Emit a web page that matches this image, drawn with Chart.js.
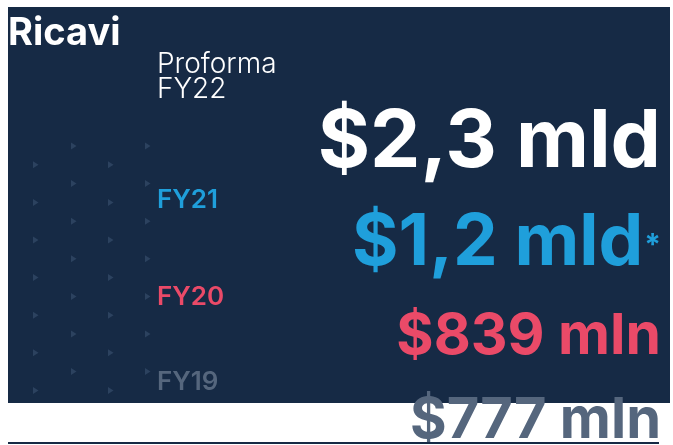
<!DOCTYPE html>
<html>
<head>
<meta charset="utf-8">
<script src="https://cdn.jsdelivr.net/npm/chart.js@4.4.1/dist/chart.umd.min.js"></script>
<style>
  html, body { margin: 0; padding: 0; background: #ffffff; }
  canvas { display: block; }
</style>
</head>
<body>
<canvas id="chart" width="673" height="445"></canvas>
<script>
(function() {
  'use strict';

  // data
  var years = ['FY22', 'FY21', 'FY20', 'FY19'];
  var yearLabels = [['Proforma', 'FY22'], ['FY21'], ['FY20'], ['FY19']];
  var revenueMln = [2300, 1200, 839, 777];
  var valueLabels = ['$2,3 mld', '$1,2 mld', '$839 mln', '$777 mln'];
  var footnotes = ['', '*', '', ''];
  var title = 'Ricavi';

  // styles
  var navy = '#162a45';
  var rowColors = ['#ffffff', '#1f9fdb', '#ea4a68', '#55667d'];
  var valueSizes = [80, 71, 57, 56];
  var valueBaseline = [30, 35, 31, 22];
  var labelBaseline = [-39, -22, -18, -26];
  var labelFonts = ['300 28px', '600 26px', '600 26px', '600 26px'];
  var fontFamily = 'Inter, "Noto Sans", sans-serif';

  var infographic = {
    id: 'infographic',
    beforeDraw: function(chart) {
      var ctx = chart.ctx;
      ctx.save();
      ctx.fillStyle = '#ffffff';
      ctx.fillRect(0, 0, chart.width, chart.height);
      ctx.fillStyle = navy;
      ctx.fillRect(8, 7, 662, 396);
      // decorative arrow pattern
      ctx.fillStyle = '#2c425f';
      for (var r = 0; r < 14; r++) {
        var py = 146 + r * 18.8;
        var cols = r % 2 === 0 ? [73, 147] : [35, 110];
        cols.forEach(function(px) {
          ctx.beginPath();
          ctx.moveTo(px - 2, py - 3.5);
          ctx.lineTo(px + 3.5, py);
          ctx.lineTo(px - 2, py + 3.5);
          ctx.closePath();
          ctx.fill();
        });
      }
      ctx.restore();
    },
    afterDatasetsDraw: function(chart) {
      var ctx = chart.ctx;
      var meta = chart.getDatasetMeta(0);
      ctx.save();
      ctx.textBaseline = 'alphabetic';

      ctx.fillStyle = '#ffffff';
      ctx.font = '700 38px ' + fontFamily;
      ctx.textAlign = 'left';
      ctx.fillText(title, 8, 45);

      meta.data.forEach(function(el, i) {
        var y = el.y;
        ctx.fillStyle = rowColors[i];

        // year label
        ctx.textAlign = 'left';
        ctx.font = labelFonts[i] + ' ' + fontFamily;
        var lines = yearLabels[i];
        lines.forEach(function(line, j) {
          ctx.fillText(line, 157, y + labelBaseline[i] - (lines.length - 1 - j) * 25);
        });

        // value
        var right = 661;
        if (footnotes[i]) {
          ctx.font = '700 30px ' + fontFamily;
          var fw = ctx.measureText(footnotes[i]).width;
          ctx.textAlign = 'right';
          ctx.fillText(footnotes[i], right, y + valueBaseline[i] - 10);
          right -= fw + 1;
        }
        ctx.font = '700 ' + valueSizes[i] + 'px ' + fontFamily;
        ctx.textAlign = 'right';
        ctx.fillText(valueLabels[i], right, y + valueBaseline[i]);
      });

      ctx.strokeStyle = navy;
      ctx.lineWidth = 2;
      ctx.beginPath();
      ctx.moveTo(8, 443);
      ctx.lineTo(659, 443);
      ctx.stroke();
      ctx.restore();
    }
  };

  new Chart(document.getElementById('chart'), {
    type: 'bar',
    data: {
      labels: years,
      datasets: [{
        data: revenueMln,
        backgroundColor: 'rgba(0,0,0,0)',
        borderWidth: 0
      }]
    },
    options: {
      indexAxis: 'y',
      responsive: false,
      animation: false,
      devicePixelRatio: 1,
      layout: { padding: { top: 137, bottom: 29, left: 0, right: 0 } },
      plugins: { legend: { display: false }, tooltip: { enabled: false } },
      scales: {
        y: { display: false, offset: false },
        x: { display: false, beginAtZero: true }
      }
    },
    plugins: [infographic]
  });
})();
</script>
</body>
</html>
